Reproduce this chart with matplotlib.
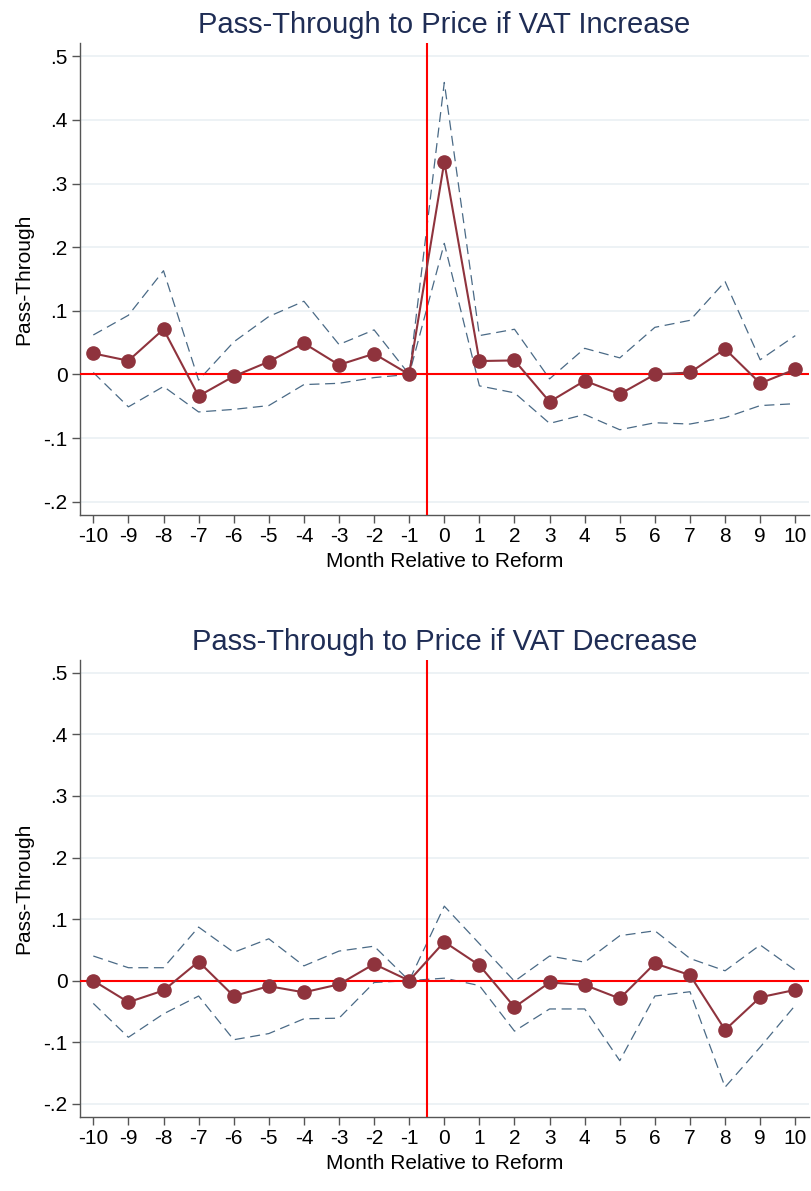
import numpy as np
import matplotlib
matplotlib.use("Agg")
import matplotlib.pyplot as plt
from matplotlib.ticker import FuncFormatter

plt.rcParams["font.family"] = ["Liberation Sans", "DejaVu Sans"]
plt.rcParams["axes.unicode_minus"] = False

months = list(range(-10, 11))

# VAT increase: point estimate and 95% CI
inc_est = [0.033, 0.0215, 0.071, -0.034, -0.003, 0.020, 0.049, 0.015, 0.0325, 0.0,
           0.334, 0.021, 0.022, -0.043, -0.010, -0.031, 0.000, 0.003, 0.040, -0.014, 0.008]
inc_hi = [0.062, 0.093, 0.163, -0.009, 0.051, 0.091, 0.115, 0.047, 0.070, 0.0,
          0.459, 0.061, 0.071, -0.007, 0.041, 0.026, 0.074, 0.085, 0.146, 0.023, 0.061]
inc_lo = [0.003, -0.051, -0.019, -0.059, -0.055, -0.049, -0.016, -0.014, -0.005, 0.0,
          0.206, -0.018, -0.029, -0.077, -0.063, -0.087, -0.076, -0.078, -0.068, -0.049, -0.046]

# VAT decrease
dec_est = [0.0, -0.035, -0.016, 0.031, -0.025, -0.009, -0.019, -0.006, 0.027, 0.0,
           0.063, 0.025, -0.043, -0.003, -0.007, -0.029, 0.028, 0.009, -0.080, -0.027, -0.015]
dec_hi = [0.040, 0.021, 0.021, 0.087, 0.046, 0.068, 0.024, 0.048, 0.056, 0.0,
          0.121, 0.060, -0.001, 0.040, 0.030, 0.073, 0.081, 0.036, 0.016, 0.058, 0.017]
dec_lo = [-0.037, -0.092, -0.054, -0.025, -0.096, -0.086, -0.062, -0.061, -0.003, 0.0,
          0.004, -0.008, -0.082, -0.046, -0.046, -0.130, -0.025, -0.018, -0.173, -0.108, -0.040]

y_ticks = [-0.2, -0.1, 0.0, 0.1, 0.2, 0.3, 0.4, 0.5]

EST_C = "#8f333d"
CI_C = "#4a6a86"
TITLE_C = "#1f2d55"


def stata_fmt(v, _pos):
    if abs(v) < 1e-9:
        return "0"
    s = f"{v:.1f}"
    return s.replace("0.", ".")


def panel(ax, est, hi, lo, title):
    ax.grid(axis="y", color="#eaf0f3", lw=1.2, zorder=0)
    ax.plot(months, hi, color=CI_C, lw=0.9, dashes=(8, 4.5), zorder=2)
    ax.plot(months, lo, color=CI_C, lw=0.9, dashes=(8, 4.5), zorder=2)
    ax.axhline(0, color="#ff0000", lw=1.5, zorder=3)
    ax.axvline(-0.5, color="#ff0000", lw=1.5, zorder=3)
    ax.plot(months, est, color=EST_C, lw=1.5, marker="o", ms=9.5, zorder=4)
    ax.set_xlim(-10.38, 10.39)
    ax.set_ylim(-0.221, 0.521)
    ax.set_xticks(months)
    ax.set_yticks(y_ticks)
    ax.yaxis.set_major_formatter(FuncFormatter(stata_fmt))
    ax.tick_params(axis="both", labelsize=15, length=6, width=1, color="#555555", pad=3)
    for side in ("top", "right"):
        ax.spines[side].set_visible(False)
    for side in ("left", "bottom"):
        ax.spines[side].set_color("#555555")
        ax.spines[side].set_linewidth(1.0)
    ax.set_xlabel("Month Relative to Reform", fontsize=15, labelpad=4)
    ax.set_ylabel("Pass-Through", fontsize=15, labelpad=7)
    ax.set_title(title, fontsize=21, color=TITLE_C, pad=7)


fig = plt.figure(figsize=(8.11, 11.91), dpi=100)
ax1 = fig.add_axes([0.0986, 0.5676, 0.8989, 0.3963])
ax2 = fig.add_axes([0.0986, 0.0624, 0.8989, 0.3835])
panel(ax1, inc_est, inc_hi, inc_lo, "Pass-Through to Price if VAT Increase")
panel(ax2, dec_est, dec_hi, dec_lo, "Pass-Through to Price if VAT Decrease")

fig.savefig("out.png", dpi=100, facecolor="white")
